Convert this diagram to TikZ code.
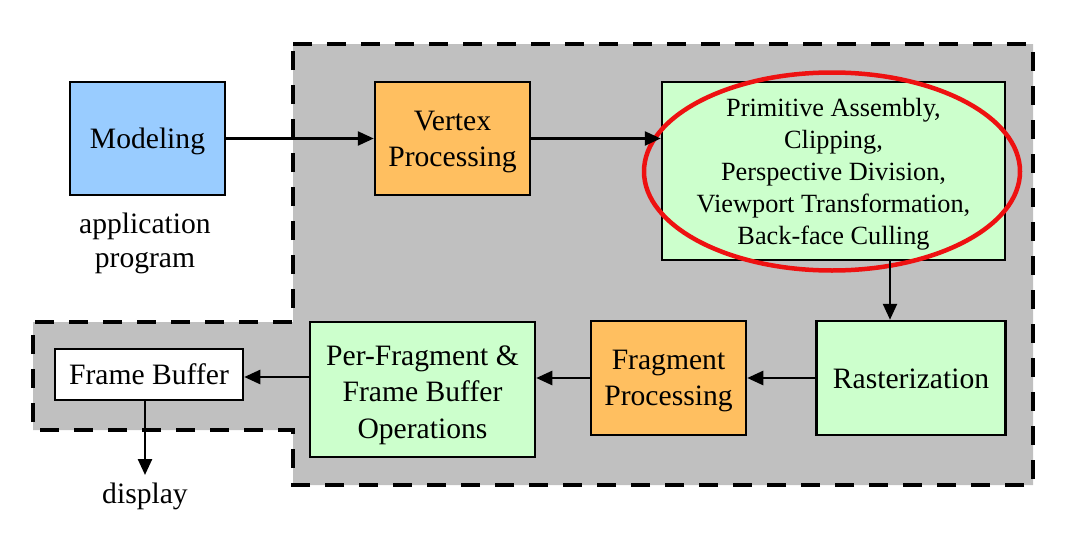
\documentclass[tikz,border=0pt]{standalone}
\usepackage{fontspec}
\setmainfont{Liberation Serif}
\usetikzlibrary{arrows.meta}
\definecolor{regiongray}{HTML}{C0C0C0}
\definecolor{modblue}{HTML}{99CCFF}
\definecolor{procorange}{HTML}{FFBF60}
\definecolor{stagegreen}{HTML}{CCFFCC}
\definecolor{markred}{HTML}{EE1111}
\begin{document}
\begin{tikzpicture}[x=1pt,y=-1pt,
  box/.style={draw=black,line width=2.5pt,inner sep=0pt},
  txt/.style={align=center,inner sep=0pt,font=\fontsize{29.6}{36.5}\selectfont},
  smalltxt/.style={align=center,inner sep=0pt,font=\fontsize{26.3}{32}\selectfont},
  arr/.style={line width=2.5pt,-{Triangle[length=16pt,width=14pt]}},
  region/.style={fill=regiongray,draw=black,line width=4pt,dash pattern=on 19pt off 15pt}]
\useasboundingbox (0,0) rectangle (1068,546);

% gray pipeline region
\draw[region] (293,44) -- (1033,44) -- (1033,485) -- (293,485) -- (293,430)
  -- (33,430) -- (33,322) -- (293,322) -- cycle;

% nodes
\node[box,fill=modblue,minimum width=155pt,minimum height=113pt,
  label={[txt,yshift=-3pt]center:{Modeling}}] (model) at (147.5,138.5) {};
\node[txt,font=\fontsize{29.6}{34}\selectfont] (app) at (145,243) {application\\program};
\node[box,fill=procorange,minimum width=155pt,minimum height=113pt,
  label={[txt,yshift=-3.5pt]center:{Vertex\\Processing}}] (vertex) at (452.5,138.5) {};
\node[box,fill=stagegreen,minimum width=343pt,minimum height=178pt,
  label={[smalltxt,yshift=-3pt]center:{Primitive Assembly,\\Clipping,\\Perspective Division,\\Viewport Transformation,\\Back-face Culling}}]
  (prim) at (833.5,171) {};
\node[box,fill=stagegreen,minimum width=189pt,minimum height=114pt,
  label={[txt,yshift=-1pt]center:{Rasterization}}] (rast) at (911,378) {};
\node[box,fill=procorange,minimum width=155pt,minimum height=114pt,
  label={[txt,yshift=-3pt]center:{Fragment\\Processing}}] (frag) at (668.5,378) {};
\node[box,fill=stagegreen,minimum width=225pt,minimum height=135pt,
  label={[txt,yshift=-5.5pt]center:{Per-Fragment \&\\Frame Buffer\\Operations}}] (perfrag) at (422.5,389.5) {};
\node[box,fill=white,minimum width=188pt,minimum height=51pt,
  label={[txt]center:{Frame Buffer}}] (fb) at (149,374.5) {};
\node[txt] (display) at (145,496) {display};

% red ellipse
\draw[markred,line width=4.5pt] (832,171.5) ellipse [x radius=188pt, y radius=99pt];

% connectors
\coordinate (dispend) at (145,475);
\draw[arr] (model.east) -- (vertex.west);
\draw[arr] (vertex.east) -- (prim.west |- vertex.east);
\draw[arr] ([xshift=-21pt]rast.north |- prim.south) -- ([xshift=-21pt]rast.north);
\draw[arr] (rast.west) -- (frag.east);
\draw[arr] (frag.west) -- (perfrag.east |- frag.west);
\draw[arr] (perfrag.west |- 0,377) -- (fb.east |- 0,377);
\draw[arr] (fb.south -| dispend) -- (dispend);
\end{tikzpicture}
\end{document}
